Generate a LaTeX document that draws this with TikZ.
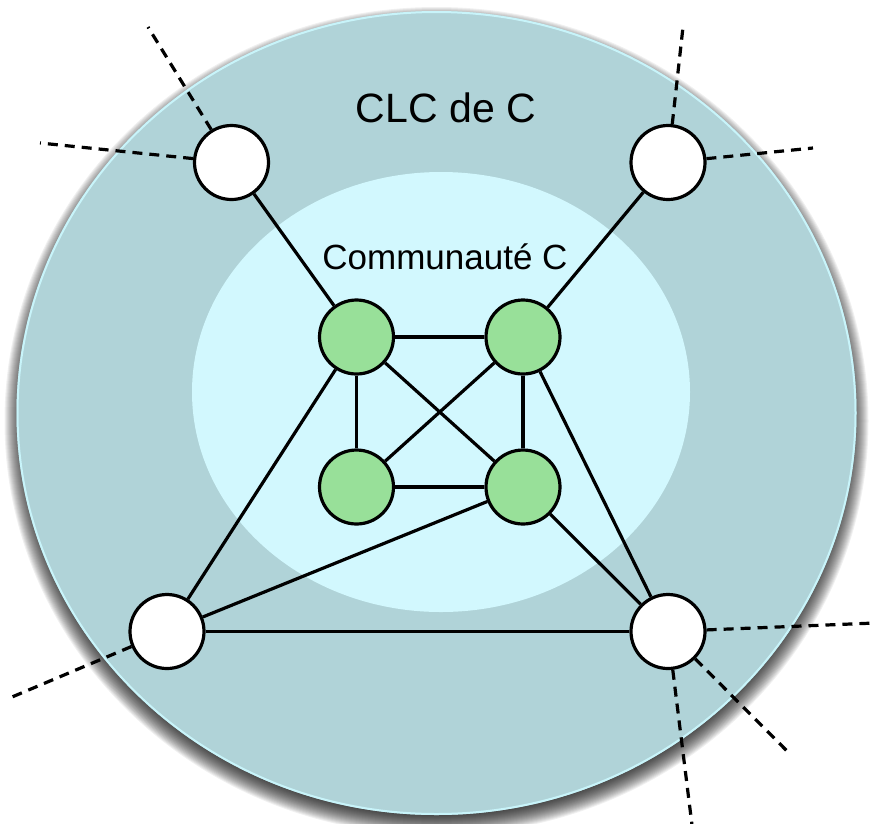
\documentclass[tikz,border=0pt]{standalone}
\usepackage{fontspec}
\setmainfont{Liberation Sans}
\definecolor{outerfill}{HTML}{B0D3D8}
\definecolor{outerrim}{HTML}{C8F4FA}
\definecolor{innerfill}{HTML}{D2F8FE}
\definecolor{greenfill}{HTML}{98E099}
\pgfdeclarelayer{back}
\pgfdeclarelayer{mid}
\pgfsetlayers{back,mid,main}
\begin{document}
\begin{tikzpicture}[x=1pt,y=-1pt,
  vert/.style={circle,draw=black,line width=3.2pt,inner sep=0pt,minimum size=74pt},
  whitev/.style={vert,fill=white},
  greenv/.style={vert,fill=greenfill},
  edge/.style={line width=3.2pt,draw=black},
  extedge/.style={line width=3.2pt,draw=black,dash pattern=on 10pt off 7pt},
  lbl/.style={inner sep=0pt,text=black}]
\useasboundingbox (0,0) rectangle (873,823);
\begin{pgfonlayer}{back}
% shadow of the outer disc
\foreach \s in {-8,...,12}{
  \fill[black,opacity=0.06] (436.5,421) ellipse [x radius=420+\s, y radius=402+\s];
}
% outer disc
\fill[outerfill] (436.5,413) ellipse [x radius=420, y radius=402];
\draw[outerrim,line width=2pt] (436.5,413) ellipse [x radius=419, y radius=401];
% inner disc
\fill[innerfill] (441,392) ellipse [x radius=249, y radius=220];
\end{pgfonlayer}
% labels
\node[lbl,font=\fontsize{41}{45}\selectfont] (clc) at (446,108) {CLC de C};
\node[lbl,font=\fontsize{35}{38}\selectfont] (comm) at (445,257) {Communauté C};
% vertices
\node[whitev] (wtl) at (231.5,162.5) {};
\node[whitev] (wtr) at (668,162.5) {};
\node[whitev] (wbl) at (167,631.5) {};
\node[whitev] (wbr) at (668,631.5) {};
\node[greenv] (gtl) at (356.5,337) {};
\node[greenv] (gtr) at (523,337) {};
\node[greenv] (gbl) at (356.5,487) {};
\node[greenv] (gbr) at (523,487) {};
% outside ends
\coordinate (e1) at (148,27);
\coordinate (e2) at (40,143);
\coordinate (e3) at (683,27);
\coordinate (e4) at (813,148);
\coordinate (e5) at (12,697);
\coordinate (e6) at (875,623);
\coordinate (e7) at (787,751);
\coordinate (e8) at (692,825);
% edges
\begin{pgfonlayer}{mid}
\path[edge] (wtl) -- (gtl);
\path[edge] (wtr) -- (gtr);
\path[edge] (wbl) -- (gtl);
\path[edge] (wbl) -- (gbr);
\path[edge] (wbl) -- (wbr);
\path[edge] (wbr) -- (gtr);
\path[edge] (wbr) -- (gbr);
\path[edge] (gtl) -- (gtr);
\path[edge] (gtl) -- (gbl);
\path[edge] (gtl) -- (gbr);
\path[edge] (gtr) -- (gbl);
\path[edge] (gtr) -- (gbr);
\path[edge] (gbl) -- (gbr);
\path[extedge] (wtl) -- (e1);
\path[extedge] (wtl) -- (e2);
\path[extedge] (wtr) -- (e3);
\path[extedge] (wtr) -- (e4);
\path[extedge] (wbl) -- (e5);
\path[extedge] (wbr) -- (e6);
\path[extedge] (wbr) -- (e7);
\path[extedge] (wbr) -- (e8);
\end{pgfonlayer}
\end{tikzpicture}
\end{document}
